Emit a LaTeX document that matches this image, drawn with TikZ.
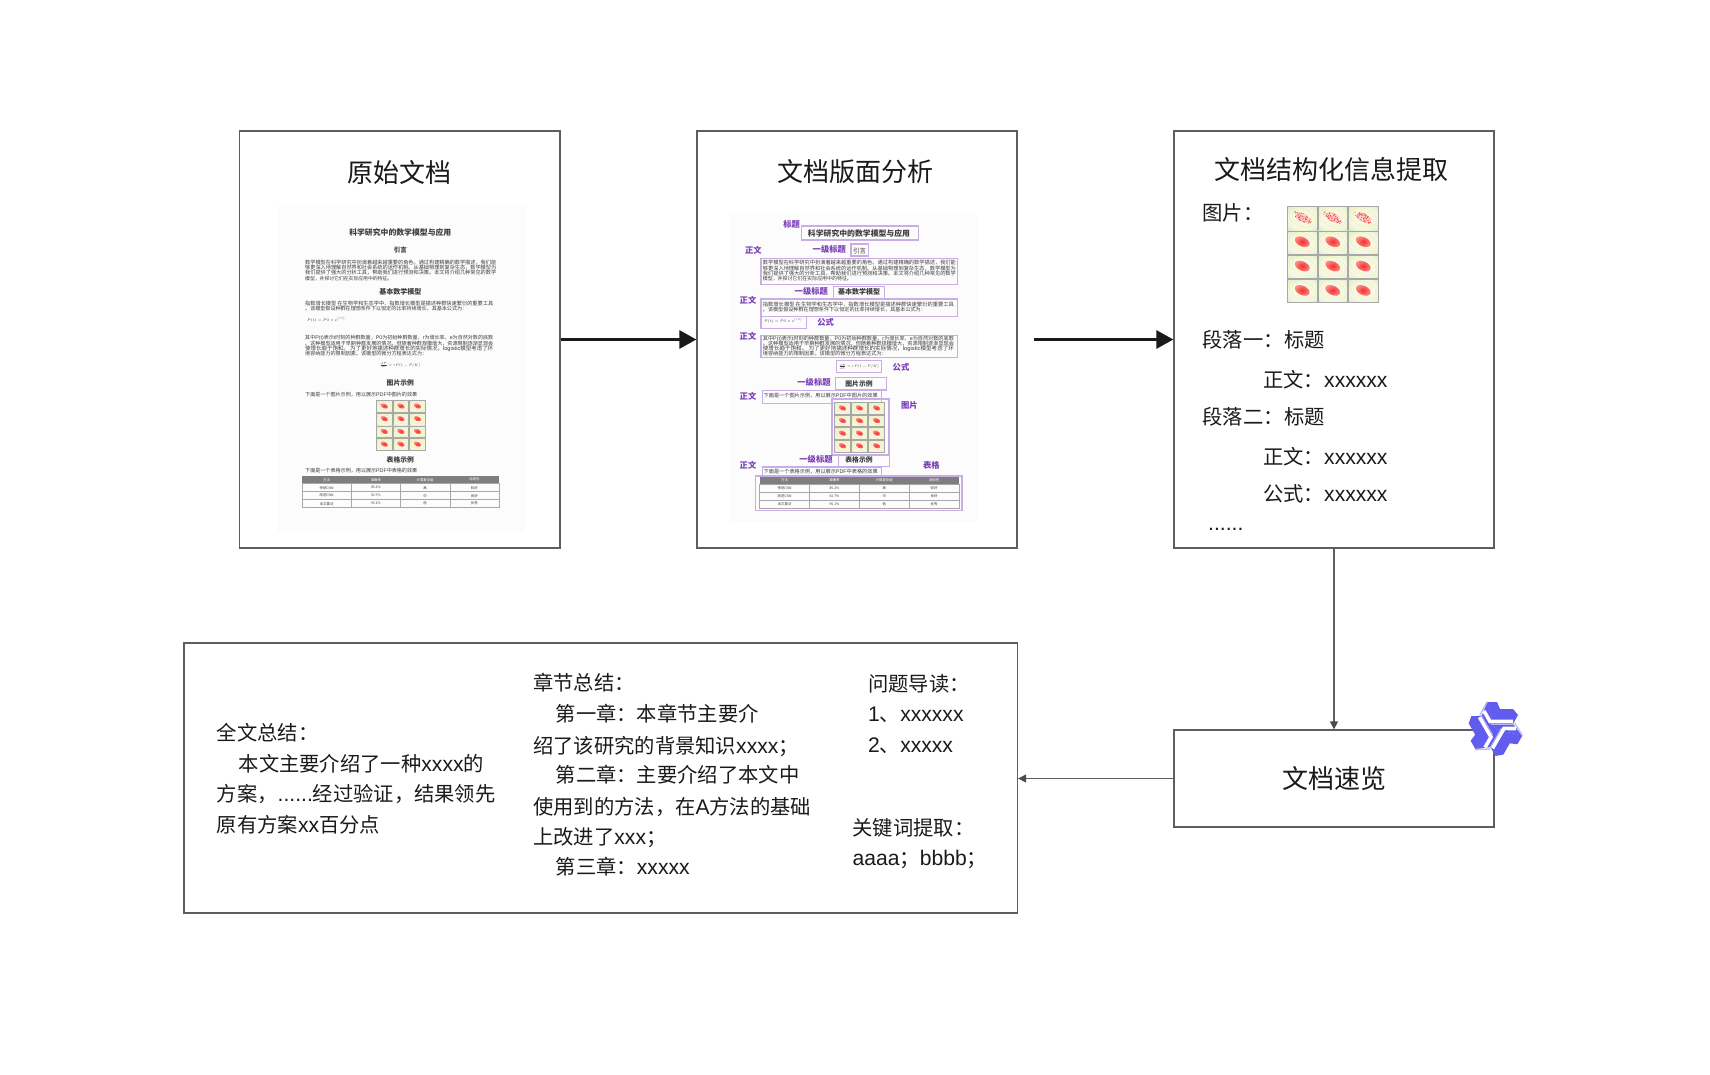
\documentclass[tikz,border=0pt]{standalone}
\usepackage{fontspec}
\usepackage{graphicx}
\usetikzlibrary{arrows.meta,shadings}
\setmainfont{Liberation Sans}
\newfontfamily\cjk{Noto Sans CJK SC}
\newfontfamily\latf[Scale=1.04]{Liberation Sans}
\newcommand{\lat}[1]{{\latf #1}}
\definecolor{ink}{HTML}{1A1A1A}
\definecolor{frame}{HTML}{5E5E5E}
\definecolor{minitx}{HTML}{3C3C3C}
\definecolor{plabel}{HTML}{7A3DB8}
\definecolor{pline}{HTML}{C8AEE4}
\definecolor{qwen}{HTML}{615CED}
\definecolor{qedge}{HTML}{B9B6F7}
\definecolor{thA}{HTML}{6FB8A6}
\definecolor{thB}{HTML}{BFE0CC}
\definecolor{thC}{HTML}{EEF4D6}
\definecolor{thM}{HTML}{FBFBEE}
\definecolor{thR}{HTML}{F03030}
\definecolor{thP}{HTML}{FF9088}
\definecolor{thL}{HTML}{E6EDA0}
\definecolor{docbg}{HTML}{FCFCFC}
\definecolor{tabh}{HTML}{7E7E7E}
\definecolor{tabl}{HTML}{A8A8A8}
\pgfdeclareradialshading{thumbbg}{\pgfpointorigin}{color(0bp)=(thM); color(16bp)=(thM); color(28bp)=(thC); color(42bp)=(thB); color(60bp)=(thA)}
\newcounter{tn}
\newcommand{\tnode}[4][]{\stepcounter{tn}\node[#1] (n\arabic{tn}) at (#2,#3) {#4};}
% one justified line of a miniature page: x, y, width, text
\newcommand{\dl}[4]{\stepcounter{tn}\node[mini] (n\arabic{tn}) at (#1,#2) {\resizebox{#3pt}{!}{#4}};}
\newcommand{\pAa}{数学模型在科学研究中扮演着越来越重要的角色。通过构建精确的数学描述，我们能}
\newcommand{\pAb}{够更深入地理解自然界和社会系统的运作机制。从基础物理到复杂生态，数学模型为}
\newcommand{\pAc}{我们提供了强大的分析工具，帮助我们进行预测和决策。本文将介绍几种常见的数学}
\newcommand{\pAd}{模型，并探讨它们在实际应用中的特征。}
\newcommand{\pBa}{指数增长模型 在生物学和生态学中，指数增长模型是描述种群快速繁衍的重要工具}
\newcommand{\pBb}{。该模型假设种群在理想条件下以恒定的比率持续增长，其基本公式为：}
\newcommand{\pCa}{其中\lat{P(t)}表示\lat{t}时刻的种群数量，\lat{P0}为初始种群数量，\lat{r}为增长率，\lat{e}为自然对数的底数}
\newcommand{\pCb}{。这种模型适用于早期种群发展的情况，但随着种群规模增大，资源限制逐渐显现会}
\newcommand{\pCc}{使增长趋于饱和。\ 为了更好地描述种群增长的实际情况，\lat{logistic}模型考虑了环}
\newcommand{\pCd}{境容纳能力的限制因素。该模型的微分方程表达式为：}
\newcommand{\pD}{下面是一个图片示例，用以展示\lat{PDF}中图片的效果}
\newcommand{\pE}{下面是一个表格示例，用以展示\lat{PDF}中表格的效果}
\newcommand{\fA}{\resizebox{38pt}{!}{$P(t)=P0\times e^{(rt)}$}}
\newcommand{\fB}{\resizebox{40pt}{!}{$\frac{dP}{dt}=rP(1-P/K)$}}
% thumbnail grid: x0,y0,thumb w,thumb h,gap,scatter row (1/0)
\newcommand{\thumbs}[6]{%
  \foreach \rw in {0,1,2,3}{\foreach \cl in {0,1,2}{%
    \pgfmathsetmacro\tpx{#1+\cl*(#3+#5)}%
    \pgfmathsetmacro\tpy{#2+\rw*(#4+#5)}%
    \pgfmathsetmacro\cpx{\tpx+0.5*#3}%
    \pgfmathsetmacro\cpy{\tpy+0.47*#4}%
    \begin{scope}
      \clip (\tpx,\tpy) rectangle ++(#3,#4);
      \shade[shading=thumbbg] (\tpx,\tpy) rectangle ++(#3,#4);
      \draw[thL,line width=.4pt] (\cpx,\cpy) ellipse [x radius=0.46*#3,y radius=0.3*#3,rotate=-22];
      \draw[thL,line width=.3pt] (\cpx,\cpy) ellipse [x radius=0.36*#3,y radius=0.23*#3,rotate=-22];
      \ifnum#6=1
        \ifnum\rw=0
          \fill[thP,opacity=.35] (\cpx,\cpy) ellipse [x radius=0.26*#3,y radius=0.16*#3,rotate=-25];
          \foreach \k in {1,...,55}{%
            \pgfmathsetmacro\da{rnd*360}\pgfmathsetmacro\dr{sqrt(rnd)}%
            \fill[thR] ({\cpx+\dr*0.3*#3*cos(\da)+\dr*0.08*#3*sin(\da)},{\cpy+\dr*0.17*#3*sin(\da)+\dr*0.1*#3*cos(\da)}) circle (.5);}
        \else
          \shade[inner color=thR,outer color=thP] (\cpx,\cpy) ellipse [x radius=0.27*#3,y radius=0.16*#3,rotate=-25];
        \fi
      \else
        \shade[inner color=thR,outer color=thP] (\cpx,\cpy) ellipse [x radius=0.26*#3,y radius=0.15*#3,rotate=-25];
      \fi
    \end{scope}
    \draw[tabl,line width=.5pt] (\tpx,\tpy) rectangle ++(#3,#4);
  }}%
}
% mini table: x0,y0,width,header h,row h
\newcommand{\minitab}[5]{%
  \fill[tabh] (#1,#2) rectangle ++(#3,#4);
  \foreach \rr/\ca/\cb/\cc/\cd in {0/方法/准确率/计算复杂度/适用性,1/传统CNN/85.2\%/高/较好,2/改进CNN/92.7\%/中/良好,3/本文算法/95.1\%/低/优秀}{%
    \pgfmathsetmacro\yy{#2+(\rr==0 ? 0.5*#4 : #4+(\rr-0.5)*#5)}%
    \foreach \q/\tcell in {0/\ca,1/\cb,2/\cc,3/\cd}{%
      \pgfmathsetmacro\xx{#1+(\q+0.5)*#3/4}%
      \ifnum\rr=0 \tnode[tabc,text=white]{\xx}{\yy}{\tcell}\else\tnode[tabc]{\xx}{\yy}{\tcell}\fi
    }%
  }%
  \draw[tabl,line width=.6pt] (#1,#2+#4) rectangle (#1+#3,#2+#4+3*#5);
  \draw[tabl,line width=.5pt] (#1,#2+#4+#5) -- ++(#3,0) (#1,#2+#4+2*#5) -- ++(#3,0)
    (#1+#3/4,#2+#4) -- ++(0,3*#5) (#1+#3/2,#2+#4) -- ++(0,3*#5) (#1+0.75*#3,#2+#4) -- ++(0,3*#5);
}
\tikzset{
  box/.style={draw=frame,line width=1.3pt,fill=white,inner sep=0pt},
  head/.style={font=\cjk\fontsize{26}{30}\selectfont,text=ink,inner sep=0pt},
  body/.style={anchor=west,font=\cjk\fontsize{20.3}{24}\selectfont,text=ink,inner sep=0pt,text height=16pt,text depth=4pt},
  mini/.style={anchor=west,font=\cjk\fontsize{5.2}{6}\selectfont,text=minitx,inner sep=0pt,text height=4pt,text depth=1pt},
  minih/.style={font=\cjk\bfseries\fontsize{7}{8}\selectfont,text=minitx,inner sep=0pt},
  mathn/.style={font=\fontsize{6}{7}\selectfont,text=minitx,inner sep=0pt},
  tabc/.style={font=\cjk\fontsize{3.4}{4}\selectfont,text=minitx,inner sep=0pt},
  lab/.style={font=\cjk\bfseries\fontsize{8.3}{9}\selectfont,text=plabel,inner sep=0pt},
  pbox/.style={draw=pline,line width=1.1pt},
  bigarrow/.style={draw=ink,line width=3pt,-{Triangle[length=17pt,width=18pt]}},
  thinarrow/.style={draw=frame,line width=1.4pt,-{Triangle[length=8pt,width=8pt,color=frame!80!black]}},
}
\begin{document}
\begin{tikzpicture}[x=1pt,y=-1pt]
\useasboundingbox (0,0) rectangle (1710,1074);
\fill[white] (0,0) rectangle (1710,1074);
\pgfmathsetseed{7}
% frames
\node[box,minimum width=320.5pt,minimum height=417pt] (b1) at (399.75,339.5) {};
\node[box,minimum width=320pt,minimum height=417pt] (b2) at (857,339.5) {};
\node[box,minimum width=320pt,minimum height=417pt] (b3) at (1334,339.5) {};
\node[box,minimum width=320pt,minimum height=97pt] (b4) at (1334,778.5) {};
\node[box,minimum width=833.5pt,minimum height=270pt] (b5) at (600.75,778) {};
\coordinate (a2start) at (1034,339.5);
% connectors
\draw[bigarrow] (b1.east) -- (b2.west);
\draw[bigarrow] (a2start) -- (b3.west);
\draw[thinarrow] (b3.south) -- (b4.north);
\draw[thinarrow,line width=1.2pt] (b4.west) -- (b4.west -| b5.east);
% titles
\tnode[head]{399.3}{172.3}{原始文档}
\tnode[head]{855}{171.7}{文档版面分析}
\tnode[head]{1331}{170}{文档结构化信息提取}
\tnode[head]{1334.5}{779}{文档速览}

% ---------- miniature page 1
\fill[docbg] (277,205) rectangle (525,532);
\tnode[minih,font=\cjk\bfseries\fontsize{7.85}{9}\selectfont]{400.3}{232.7}{科学研究中的数学模型与应用}
\tnode[minih,font=\cjk\bfseries\fontsize{6.5}{8}\selectfont]{400.3}{250}{引言}
\dl{305}{263.3}{191}{\pAa}
\dl{305}{268.3}{191}{\pAb}
\dl{305}{273.4}{191}{\pAc}
\dl{305}{278.7}{87}{\pAd}
\tnode[minih]{400.3}{292}{基本数学模型}
\dl{305}{304}{188}{\pBa}
\dl{305}{309.3}{162}{\pBb}
\tnode[mathn,anchor=west]{307}{319.7}{\fA}
\dl{305}{338.3}{188}{\pCa}
\dl{305}{343.7}{188}{\pCb}
\dl{305}{349}{188}{\pCc}
\dl{305}{354.3}{122}{\pCd}
\tnode[mathn]{400.3}{365.3}{\fB}
\tnode[minih,font=\cjk\bfseries\fontsize{6.8}{8}\selectfont]{400.3}{383}{图片示例}
\dl{305}{395}{112}{\pD}
\thumbs{376.5}{400.5}{15.6}{11.7}{1}{0}
\tnode[minih,font=\cjk\bfseries\fontsize{6.8}{8}\selectfont]{400.3}{459.7}{表格示例}
\dl{305}{471.3}{112}{\pE}
\minitab{302}{475.7}{197}{8}{8}

% ---------- miniature page 2
\fill[docbg] (730,213) rectangle (977,522);
\draw[pbox] (801.3,226) rectangle (918.3,240);
\tnode[minih,font=\cjk\bfseries\fontsize{7.85}{9}\selectfont]{859}{233.3}{科学研究中的数学模型与应用}
\tnode[lab]{791.7}{224}{标题}
\tnode[lab]{753.3}{250}{正文}
\tnode[lab]{829.3}{249.3}{一级标题}
\draw[pbox] (851,244) rectangle (868.3,256);
\tnode[minih,font=\cjk\fontsize{6.5}{8}\selectfont]{859.5}{250.7}{引言}
\draw[pbox] (761,258.7) rectangle (957.7,284.3);
\dl{762.7}{263.3}{193}{\pAa}
\dl{762.7}{268.7}{193}{\pAb}
\dl{762.7}{274}{193}{\pAc}
\dl{762.7}{279.3}{89}{\pAd}
\tnode[lab]{811.3}{291.3}{一级标题}
\draw[pbox] (833.3,286.7) rectangle (884.3,298.7);
\tnode[minih]{859}{292.3}{基本数学模型}
\tnode[lab]{748}{300}{正文}
\draw[pbox] (761,299) rectangle (957.7,316.7);
\dl{762.7}{304.7}{191}{\pBa}
\dl{762.7}{310}{163}{\pBb}
\draw[pbox] (761,316.7) rectangle (806.7,328.3);
\tnode[mathn,anchor=west]{764}{321}{\fA}
\tnode[lab]{825.7}{322}{公式}
\tnode[lab]{748}{336.7}{正文}
\draw[pbox] (761,335.3) rectangle (957.7,357.3);
\dl{762.7}{338.7}{191}{\pCa}
\dl{762.7}{344}{191}{\pCb}
\dl{762.7}{349.3}{191}{\pCc}
\dl{762.7}{354.3}{124}{\pCd}
\draw[pbox] (836.7,360.7) rectangle (881.7,372.7);
\tnode[mathn]{859}{366.5}{\fB}
\tnode[lab]{901}{367}{公式}
\tnode[lab]{814}{382.7}{一级标题}
\draw[pbox] (835.7,377.7) rectangle (886.7,390);
\tnode[minih,font=\cjk\bfseries\fontsize{6.8}{8}\selectfont]{859}{383.7}{图片示例}
\tnode[lab]{748}{396.7}{正文}
\draw[pbox] (762.3,390.3) rectangle (881.7,403.3);
\dl{763.5}{395.7}{114}{\pD}
\thumbs{834.5}{402.5}{16}{11.6}{1}{0}
\draw[pbox] (832,399) rectangle (889,455);
\tnode[lab]{909.3}{405.7}{图片}
\tnode[lab]{816}{459.7}{一级标题}
\draw[pbox] (838.3,455) rectangle (889.3,466.7);
\tnode[minih,font=\cjk\bfseries\fontsize{6.8}{8}\selectfont]{859}{460}{表格示例}
\tnode[lab]{748}{465.3}{正文}
\tnode[lab]{931.3}{465}{表格}
\draw[pbox] (762.3,467) rectangle (881.7,476);
\dl{763.5}{472}{114}{\pE}
\minitab{759.7}{476}{199.3}{8}{8}
\draw[pbox] (755.7,476) rectangle (962,510.7);

% ---------- structured info
\tnode[body]{1202.3}{214.7}{图片：}
\thumbs{1287.5}{206.5}{29.5}{23.3}{1}{1}
\tnode[body]{1202.3}{341}{段落一：}
\tnode[body]{1284}{341}{标题}
\tnode[body]{1263}{381.7}{正文：}
\tnode[body]{1324}{381.7}{\lat{xxxxxx}}
\tnode[body]{1202.3}{418.7}{段落二：}
\tnode[body]{1284}{418.7}{标题}
\tnode[body]{1263}{458.3}{正文：}
\tnode[body]{1324}{458.3}{\lat{xxxxxx}}
\tnode[body]{1263}{495}{公式：}
\tnode[body]{1324}{495}{\lat{xxxxxx}}
\tnode[body]{1208}{524}{\lat{......}}

% ---------- summary box
\tnode[body]{216.6}{734.7}{全文总结：}
\tnode[body]{238.5}{765}{本文主要介绍了一种\lat{xxxx}的}
\tnode[body]{216.6}{795}{方案，\lat{......}经过验证，结果领先}
\tnode[body]{216.6}{826}{原有方案\lat{xx}百分点}
\tnode[body]{533}{684.7}{章节总结：}
\tnode[body]{555.5}{715.7}{第一章：本章节主要介}
\tnode[body]{533}{747}{绍了该研究的背景知识\lat{xxxx}；}
\tnode[body]{555.5}{776}{第二章：主要介绍了本文中}
\tnode[body]{533}{808}{使用到的方法，在\lat{A}方法的基础}
\tnode[body]{533}{838}{上改进了\lat{xxx}；}
\tnode[body]{555.5}{868}{第三章：\lat{xxxxx}}
\tnode[body]{868}{685}{问题导读：}
\tnode[body]{868}{715}{\lat{1}、\lat{xxxxxx}}
\tnode[body]{868}{746}{\lat{2}、\lat{xxxxx}}
\tnode[body]{852.4}{829}{关键词提取：}
\tnode[body]{852.4}{859}{\lat{aaaa}；\lat{bbbb}；}

% ---------- logo
\begin{scope}[shift={(1495,729)}]
  \foreach \ang in {0,120,240}{
    \fill[qwen,rotate=\ang] (0,0) -- (-8,-27) -- (2,-27) -- (5,-20) -- (18,-20) -- (23,-14) -- (18,-5) -- (27,6.6) -- cycle;
  }
  \foreach \ang in {0,120,240}{
    \draw[white,line width=3.6pt,rotate=\ang] (18,-7.5) -- (-5,-7.5) -- (-11,-18);
    \draw[qedge,line width=1.3pt,rotate=\ang] (-8,-27) -- (-15,-14);
    \draw[qedge,line width=.8pt,rotate=\ang] (19,-5) -- (-4,-5);
  }
\end{scope}
\end{tikzpicture}
\end{document}
